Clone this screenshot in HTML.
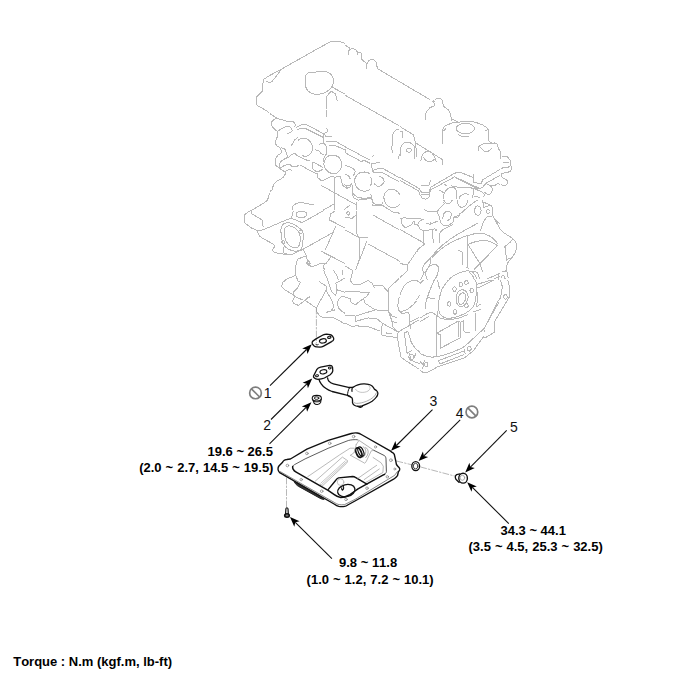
<!DOCTYPE html>
<html><head><meta charset="utf-8"><title>Oil pan components</title>
<style>
html,body{margin:0;padding:0;background:#fff}
#wrap{position:relative;width:700px;height:677px;overflow:hidden;background:#fff;font-family:"Liberation Sans",sans-serif;color:#000}
#wrap svg{position:absolute;left:0;top:0}
.t{position:absolute;white-space:nowrap;font-weight:bold;font-size:13px;line-height:15px;color:#000;font-kerning:none}
.w{word-spacing:0.4px}
.n{position:absolute;white-space:nowrap;font-size:14px;line-height:14px;color:#111}
</style></head><body>
<div id="wrap">
<svg width="700" height="677" viewBox="0 0 700 677">
<g id="engine" fill="none" stroke="#b8b8b8" stroke-width="1" shape-rendering="crispEdges">
<path d="M345.0 43.3L340.9 42.0L338.4 41.5L334.9 41.4L330.0 42.0L318.9 48.0L281.7 69.0L269.1 75.8L264.5 78.8L263.8 79.5L263.4 80.6L262.9 83.5L262.8 88.3L262.2 91.1L260.6 93.2L257.6 95.7L256.5 97.3L256.3 98.7L256.7 103.3L257.0 104.7L257.6 105.8L260.4 107.1L269.1 112.5M281.7 69.0L274.1 79.1L272.0 81.4L270.7 82.1L268.4 82.3L267.6 82.0L266.7 81.0M306.5 74.3L308.1 72.7L309.8 72.1L313.6 72.5L319.5 71.2L321.9 71.1L325.6 71.5L327.8 72.2L329.6 73.2L331.1 74.5L332.7 77.0L333.3 79.1L333.5 81.3L333.3 83.2L332.8 85.1L331.3 87.6L329.0 90.0L326.0 92.0L323.8 93.0L320.1 94.0L317.7 94.2L314.1 94.0L311.8 93.5L309.9 92.4L308.2 91.0L306.9 89.4L306.0 87.5L305.4 84.2L305.2 81.0L305.8 75.8L306.5 74.3M332.2 87.1L345.0 94.2M326.4 108.5L326.4 96.5L331.3 91.1L335.8 94.2L336.7 100.0L338.1 100.5M345.0 45.1L350.3 48.6M348.2 54.8L348.5 51.8L348.9 50.4L350.3 49.1L352.1 48.6L354.4 49.1L356.5 50.4L357.1 51.8L357.4 54.8M357.4 52.2L359.8 52.3L361.0 53.0L361.2 53.8L361.5 58.3L361.8 59.2L363.2 60.8L366.3 62.8M366.3 69.3L366.6 65.0L367.2 62.8L369.1 60.4L370.8 59.4L371.6 59.2L372.4 59.3L374.0 59.9L376.0 61.9L376.7 64.1L377.3 68.6M377.3 68.6L430.1 99.7M434.8 99.7L436.4 98.7L438.1 98.2L440.5 98.6L441.9 99.4M345.0 95.2L399.2 125.8M391.1 150.0L392.5 143.4L392.5 137.3L392.9 134.6L394.0 132.2L395.6 130.2L397.3 129.3L398.2 129.3L399.2 129.7M269.8 193.6L268.9 195.1L267.9 198.9L267.1 200.5L266.6 201.1L263.1 203.4L251.6 210.3M251.6 210.3L248.0 212.0L244.5 214.7L244.1 220.9L245.4 223.6L251.6 228.0L257.8 230.6L263.1 229.8L286.1 220.0M251.6 210.3L251.6 213.8L262.2 220.0L263.1 227.1M293.2 211.1L291.5 218.2M286.1 220.0L291.5 218.2M296.3 214.7L296.5 213.3L297.2 212.4L298.4 211.8L301.2 211.2L303.0 211.1L304.5 211.5L306.2 212.5L306.7 213.4L306.4 215.4L305.6 216.5L304.4 217.1L301.9 217.6L299.9 217.7L297.7 217.0L296.7 216.0L296.3 214.7M291.5 218.2L302.1 222.7L324.0 210.3M334.9 211.1L330.5 213.8L329.6 220.0L345.0 228.0M281.7 226.2L282.7 224.6L283.7 223.8L287.1 222.8L289.4 222.8L292.0 223.5L295.2 225.1L298.2 227.1L301.8 230.1L302.7 232.0L303.0 233.3L303.0 240.0L302.1 246.6L301.6 247.9L300.3 249.7L298.6 250.7L296.6 251.2L293.0 250.9L290.6 250.1L288.3 249.0L286.1 247.5L284.4 245.7L282.7 242.3L281.7 238.6L281.1 235.0L280.9 229.5L281.7 226.2M284.4 229.8L284.9 228.1L286.4 226.5L288.6 225.9L290.4 226.0L292.4 226.6L294.5 227.8L296.8 229.5L298.6 231.5L299.9 234.9L300.3 237.4L300.3 240.0L299.5 244.4L298.6 246.6L297.9 247.2L296.1 247.8L293.2 247.5L290.4 246.2L287.9 243.9L286.1 241.1L284.9 237.7L284.3 233.6L284.4 229.8M302.5 231.9L302.4 232.4L301.7 233.3L300.7 233.7L299.6 233.3L299.0 232.4L298.9 231.9L299.0 231.3L299.6 230.5L300.7 230.1L301.7 230.5L302.4 231.3L302.5 231.9M284.6 242.2L284.3 243.1L283.6 243.7L283.1 243.8L282.7 243.7L282.0 243.1L281.7 242.2L282.0 241.2L282.7 240.6L283.1 240.6L283.6 240.6L284.3 241.2L284.6 242.2M256.9 230.6L258.4 234.1L259.6 236.0L261.3 237.4L264.9 239.5M264.9 239.5L271.8 243.3L273.6 244.5L274.4 245.4L274.6 246.2L274.5 247.0L273.0 248.8L272.8 249.7L273.0 251.1L273.7 251.9L276.4 252.9L279.9 253.7L287.9 254.6M283.5 246.6L283.5 252.8L287.9 254.6L291.5 254.6L303.0 249.3M303.0 249.3L333.1 232.4L335.8 226.2M333.1 232.4L325.1 250.1M303.0 249.3L306.5 256.3L307.4 261.7M297.7 259.0L307.4 255.5M297.7 259.0L295.9 265.2L295.9 270.0M320.7 251.0L345.0 263.4M331.3 256.3L326.0 263.4L323.4 265.2L324.3 270.0M306.5 261.7L309.2 265.2L311.8 267.0L320.7 263.4L326.0 263.4M306.5 263.4L307.2 261.8L308.3 260.8L309.4 261.8L310.1 263.4L309.4 264.6L308.3 265.2L307.2 264.6L306.5 263.4M371.6 166.8L372.5 170.4L378.7 168.6L383.1 168.6L399.4 177.7M371.6 163.3L379.6 162.8M371.6 157.1L374.2 155.3"/>
<path d="M371.6 163.3L371.6 166.8M372.5 170.4L373.4 172.2L383.1 173.0L399.1 181.8M370.7 176.8L371.6 179.2L371.7 180.5L371.4 183.4L370.4 186.1M384.9 193.4L386.7 191.0L388.4 189.7L389.3 189.3L391.6 189.2L394.1 189.7L396.4 190.8L398.3 192.4L399.9 194.6M399.7 203.9L399.1 204.9L397.3 206.4L396.2 206.9L393.9 207.5L392.9 207.6L390.7 207.2L387.5 205.7L386.7 204.9L385.4 203.1L384.2 199.8L383.9 197.8L384.0 196.0L384.9 193.4M374.2 183.7L377.2 186.1L377.8 186.3L379.0 186.4L380.2 186.1L381.3 185.4L383.5 183.2L384.0 181.9L384.0 181.2L383.5 179.5L382.7 178.0L381.7 177.1L378.7 176.6M370.0 198.7L371.2 197.3L371.6 196.1L371.4 195.6L370.4 194.6M371.6 196.1L372.0 199.5L372.7 202.2L373.4 203.2L374.3 203.8L376.8 204.7L380.4 204.9L381.8 204.3L383.1 202.3M371.6 204.4L373.4 205.8L383.1 205.8L392.9 212.0L398.2 212.0L399.4 214.1M356.5 210.8L356.5 233.3L359.2 237.7M345.0 217.4L352.1 218.2L356.5 214.7M349.6 213.5L349.3 214.4L348.6 215.0L348.2 215.0L347.8 215.0L347.0 214.4L346.8 213.5L347.0 212.5L347.8 211.9L348.2 211.9L348.6 211.9L349.3 212.5L349.6 213.5M372.5 214.7L399.1 229.8M359.2 237.7L368.0 237.7M367.2 240.4L355.6 270.0M368.0 243.9L399.9 261.3M345.0 229.8L359.2 237.7L359.2 259.9L355.6 270.0M345.0 266.1L352.1 270.0M392.0 152.7L392.0 150.0M398.2 158.9L399.5 154.4M502.2 156.4L507.5 156.7L510.2 160.6L510.2 166.0L507.5 167.7L503.1 167.7L501.3 168.8M503.1 162.4L509.3 162.8M510.2 165.1L511.6 166.7L512.0 167.7L511.5 169.6L510.7 170.8L510.2 171.3L508.6 172.0L501.6 173.6L501.2 174.4L501.5 176.3L502.2 177.5L506.1 179.6L507.1 180.7L507.7 182.6L507.5 183.7L506.2 184.9L504.8 185.4L503.0 185.3L500.7 184.7M500.3 229.1L501.3 230.6L503.1 232.4L511.5 237.6L513.8 239.6L515.7 242.2L516.8 245.6L516.8 247.4L516.4 249.3L515.0 252.7L512.9 256.3L509.0 261.1L507.5 263.4L506.9 265.9L506.7 270.0M512.9 238.6L510.2 242.2L504.9 246.6L506.7 259.9L509.3 258.1M295.9 270.0L295.9 275.3L287.0 278.9L282.6 282.4L281.7 286.8L284.4 289.5L293.2 294.8M295.9 275.3L297.7 280.6L300.3 282.4L297.7 287.7L293.2 292.2L293.2 294.8L295.0 296.6M295.0 296.6L292.4 301.0L294.1 303.7L298.6 305.4L308.3 297.5L310.1 296.6M295.0 296.6L303.0 300.1M310.1 296.6L304.8 300.1L316.3 308.1M316.3 308.1L326.0 290.4M318.9 281.5L326.0 286.0L326.0 290.4L331.3 299.2L334.0 306.3L331.3 310.8L326.0 312.5M323.4 270.0L326.9 278.0L331.3 291.3L335.8 295.7L336.7 287.7L335.8 283.3M316.3 308.1L316.6 310.9L317.2 312.5L319.0 315.0L321.6 317.0L323.6 317.6L326.9 317.9L328.5 317.8L330.7 317.0L332.6 317.2L337.1 319.5L345.0 324.1M326.0 312.5L334.9 309.9M345.0 296.6L341.8 296.8L340.2 297.5L339.0 298.9L338.0 300.8L337.5 302.8L337.5 303.8L338.3 307.0L339.3 309.0L341.1 310.8L345.0 313.4M335.8 283.3L345.0 278.0M335.8 289.5L345.0 292.2M333.1 270.0L336.7 275.3L338.4 279.7M342.0 270.0L342.9 275.3"/>
<path d="M398.9 278.6L388.4 288.6L388.4 310.8L392.0 316.1L397.3 317.9M388.4 310.8L392.0 321.4L397.3 323.2M392.0 321.4L392.9 326.7L398.2 332.0M353.0 270.0L350.3 280.6L353.0 284.2L359.2 285.1L368.0 280.6L372.5 283.3L374.2 287.7M374.2 285.1L382.2 285.1L388.4 292.2M345.0 291.3L364.5 292.2L369.8 292.2L366.3 296.6L363.6 298.4L364.5 302.8M345.0 297.5L350.3 298.4L351.2 302.8L355.6 304.6L363.6 298.4M364.5 302.8L375.1 309.9L388.4 310.8M345.0 315.2L355.6 316.1L375.1 309.9M355.6 316.1L355.6 321.4L368.0 317.9L376.9 318.7L382.2 323.2M345.0 323.2L352.1 326.7L355.6 325.8L368.0 326.7L380.4 331.1M382.2 323.2L381.3 334.7L387.5 336.5L397.3 337.4M382.2 323.2L398.2 332.0M385.8 332.9L392.0 333.8M398.2 332.0L419.4 319.6M397.3 337.4L398.2 332.0M397.3 337.4L400.8 356.8L405.3 360.4L419.4 369.3M404.4 332.9L406.7 331.9L407.9 332.0L408.6 333.3L410.7 340.8L412.6 344.7L414.9 347.8L417.1 349.9L419.9 352.2M404.4 332.9L407.0 353.3L408.8 352.4L412.4 349.8M408.8 352.4L411.5 360.4L420.0 363.9M411.5 360.4L414.1 357.7L415.9 353.3M408.8 356.8L409.4 355.2L410.6 354.2L411.5 354.1L412.5 354.5L413.2 355.1L413.4 355.5L413.5 356.8L413.2 358.6L412.2 360.0L411.3 360.4L410.9 360.4L410.1 359.6L409.2 358.2L408.8 356.8M409.7 322.3L419.0 317.4M408.8 311.7L409.7 322.3L410.6 328.5M399.1 310.8L398.5 309.9L398.1 308.6L397.9 305.3L398.5 300.2L399.4 296.5M416.2 301.2L414.1 303.7L411.6 306.1L407.5 309.2L404.8 310.4L402.2 311.3L399.9 311.2L399.1 310.8M399.1 310.8L401.7 313.4L408.8 312.5M506.7 270.0L508.2 278.1M501.8 272.2L505.8 270.9M501.3 277.1L502.1 275.8L502.6 275.6L503.6 275.8L504.4 276.8L505.1 278.8M501.2 278.4L501.3 277.1M270.0 113.7L276.6 118.1L281.1 119.6L289.2 121.8L293.6 121.8L295.8 124.8L294.4 127.0M295.8 127.7L301.8 124.8L306.9 124.8L324.7 134.4L326.1 136.6M296.6 129.2L305.5 128.5L323.2 137.3M276.6 118.1L273.6 119.9L272.2 121.1L271.6 122.3L271.4 124.1L271.9 126.0L273.2 127.9L275.0 129.6L277.4 131.4M277.4 131.4L280.1 129.5L282.8 128.0L285.9 126.7L288.4 126.3L289.5 126.7L291.1 128.1L292.0 129.7L292.2 130.7L291.3 131.9L289.9 132.9L287.0 133.3M277.4 131.4L277.5 134.7L277.4 136.6L275.4 141.0L275.2 142.5L275.5 143.7L276.6 145.5L279.9 147.8L280.3 148.4L281.2 150.6L281.2 152.2L280.7 153.4L278.0 155.2L276.4 157.1L275.4 159.4L275.1 162.0L275.3 163.8L275.9 165.4L277.1 166.6L279.6 168.3M279.6 168.3L280.0 163.4L280.9 161.7L282.4 160.3L285.4 158.4L288.5 157.3L291.6 154.7L293.7 153.6L294.7 153.5L295.5 153.8L297.3 155.8M281.1 147.7L284.2 148.8L285.1 149.6L287.7 156.5M279.6 168.3L283.9 165.8L287.8 164.4L289.2 164.4L289.9 164.6L292.2 166.6L293.6 166.9L295.2 166.7L297.3 166.1L299.5 164.7"/>
<path d="M299.5 164.7L314.3 172.8L317.3 173.5L318.0 177.9L321.7 180.9L326.9 178.7L331.3 176.5M297.3 155.8L306.9 160.2L309.9 160.2M312.8 161.7L323.2 167.6M312.8 162.4L312.2 165.3L312.1 166.9L312.9 168.9L314.3 170.6L316.4 171.3L318.7 171.3L320.4 170.7L323.2 169.1M284.8 172.0L279.6 168.3M286.2 170.6L285.1 174.3L283.5 177.0L281.8 178.4L277.4 180.9L274.7 183.2L273.3 185.4L272.2 189.8L271.4 190.6L270.0 191.2M286.2 170.6L290.7 169.1L291.4 171.3M298.1 140.3L300.3 138.7L301.8 138.1L304.3 138.0L306.1 138.4L307.7 139.3L310.1 141.5L311.4 143.2L312.4 146.1L312.5 149.1L312.0 151.0L311.0 152.8L309.2 154.9L307.7 155.8L305.5 156.5L304.0 156.3L301.8 155.1M291.4 145.5L294.4 140.3L295.7 139.0L298.1 137.3M324.7 160.2L325.9 158.2L327.0 157.0L328.3 156.1L330.0 155.4L331.8 155.1L333.8 155.2L335.9 155.7L337.9 156.6L338.7 157.3L340.1 158.9L341.1 161.0L341.6 163.2L341.4 166.6L340.6 168.9L339.6 170.7L337.4 172.7L335.7 173.5L334.8 173.7L331.7 173.4L329.8 172.8L328.1 171.8L325.4 169.1L324.3 166.9L323.9 164.7L323.9 163.1L324.7 160.2M370.0 173.5L366.6 172.4L364.5 172.0L361.5 172.4L359.5 173.0L357.8 174.1L355.8 176.7L354.9 178.7L354.7 180.9L355.0 183.2L356.1 186.2L357.9 188.6L360.1 190.2L361.8 190.9L364.5 191.2L366.5 190.9L370.0 189.8M318.7 145.5L320.0 143.9L321.0 143.2L322.2 143.2L324.7 143.7M315.1 149.9L317.5 150.2L318.7 150.6L321.0 153.6L322.0 154.0L323.9 154.3M323.9 133.6L323.9 143.2L326.1 145.5M326.1 128.5L327.6 129.2L326.9 132.2L323.9 133.6M325.4 136.6L332.0 136.6M326.1 110.0L326.1 116.6M326.1 145.5L326.1 154.3L323.9 158.0L323.2 162.4M326.1 141.8L332.0 141.0L336.5 141.8L345.3 146.9L370.0 160.2M329.1 145.5L335.0 145.5L345.3 149.9L345.3 152.8L361.6 161.7L363.8 160.2L370.0 163.2M344.6 165.4L347.8 166.2L349.8 166.9L352.8 168.5L354.5 169.8L354.9 170.6L355.1 171.4L354.5 173.4L353.5 175.7M344.6 174.3L347.0 175.0L348.3 175.7L349.2 176.9L350.5 179.4M334.5 177.2L334.5 210.0M321.0 185.3L355.7 204.5M331.3 176.5L335.0 177.2L340.2 176.5L341.6 180.9L342.4 185.3L346.8 188.3L350.5 186.8L351.2 183.1L352.7 186.8L352.0 192.7L353.5 197.9L358.6 200.1L370.0 198.6M356.4 201.6L356.4 210.0M352.0 192.7L357.1 197.1L364.5 198.6L370.0 197.1M343.9 210.0L350.5 204.5M292.2 210.0L292.3 207.4L292.9 206.0L294.1 204.9L295.7 203.8L298.8 202.6L301.8 202.3L306.9 203.8L313.6 204.5M323.2 210.0L334.5 203.8M343.9 184.6L346.8 186.1L349.8 185.3M425.1 119.9L425.5 114.4L426.8 111.4L429.5 108.1L430.4 107.5L433.5 106.2L434.7 105.2L434.7 104.5L434.4 103.6L432.5 100.7M433.2 100.0L434.7 102.2M442.8 100.0L443.0 103.8L443.6 105.9L444.2 106.7L448.0 109.5L448.7 110.3L450.2 113.2L451.1 117.3L451.0 122.2M451.0 118.5L458.3 122.2M442.1 144.3L442.8 134.0L442.9 129.2L443.6 127.3L444.3 126.5L447.7 124.6L452.7 122.9L456.7 122.3L466.7 121.4L470.9 121.4L476.5 122.6L482.5 124.9L486.5 127.4L488.0 129.1L488.4 130.1L488.7 133.1L488.6 141.4M443.6 131.0L445.8 128.8M484.9 131.0L487.9 129.5M474.6 128.5L474.1 130.1L472.8 131.5L470.8 132.7L468.3 133.4L465.4 133.7L462.6 133.4L460.1 132.7L458.0 131.5L456.7 130.1L456.3 128.5L456.7 126.9L458.0 125.5L460.1 124.3L462.6 123.6L465.4 123.3L468.3 123.6L470.8 124.3L472.8 125.5L474.1 126.9L474.6 128.5M458.3 134.7L461.5 136.1L463.5 136.6L465.6 136.6L469.4 136.2"/>
<path d="M478.3 151.0L478.5 148.0L479.0 146.5L480.0 145.5L481.9 144.3L484.4 143.6L487.5 143.2L494.5 143.0L496.8 143.6L497.4 144.2L497.7 145.1L498.2 148.7L498.5 149.2L499.5 149.9L500.0 151.0L500.0 159.1M480.5 147.3L483.5 150.5L484.2 151.0L485.6 151.3L487.2 151.3L488.6 151.0L490.0 150.1L492.3 148.0M496.8 143.6L497.5 145.8M488.6 141.4L491.6 142.8M400.0 126.6L413.3 134.7L415.5 142.8L442.8 159.8L442.8 165.0M400.0 131.8L402.2 131.8L402.7 138.4M400.0 156.9L400.4 148.7L401.2 146.2L402.4 144.5L404.4 142.8L405.9 142.2L408.1 142.0L409.6 142.4L412.0 143.8L413.3 145.1L414.1 146.5L414.5 148.1L414.9 151.6L414.8 159.1M411.5 150.2L411.0 151.4L409.7 152.2L408.9 152.3L408.0 152.2L406.7 151.4L406.2 150.2L406.7 149.0L408.0 148.3L408.9 148.2L409.7 148.3L411.0 149.0L411.5 150.2M415.5 142.8L416.2 150.2L416.2 156.9M420.7 161.3L421.8 156.3L423.2 153.9L424.5 152.6L425.8 151.7L427.3 151.2L428.8 151.2L430.3 151.7L431.1 152.3L432.7 154.0L434.1 155.9L435.1 157.8L436.2 162.0M423.6 156.9L425.3 160.1L425.8 160.6L427.4 161.1L429.3 161.4L431.0 161.3L432.5 160.7L434.7 159.1M431.8 152.4L432.5 155.4M400.0 177.5L419.2 188.6L421.4 192.3L428.8 192.3L431.0 187.1L454.7 173.1L460.6 172.4L473.1 177.5L473.9 182.7L481.2 183.5L482.7 179.8L500.0 169.4M400.0 180.5L418.5 190.8L419.9 194.5L422.2 198.2L425.8 199.3L429.5 196.8L430.3 190.1L454.7 176.8L479.8 188.6L482.7 187.1L485.7 183.5L500.0 175.3M455.4 177.5L478.3 189.4M420.7 184.9L425.8 185.7L429.5 184.9L430.3 179.8M421.4 194.5L428.8 194.5M473.1 173.9L473.1 177.5M485.7 183.5L489.4 185.2L491.1 186.6L491.9 187.6L492.3 188.6L492.3 190.5L491.2 192.8L490.3 193.8L489.2 194.4L487.9 194.4L484.2 192.3M488.6 185.7L494.5 185.7L497.5 183.5L500.0 184.2M443.0 199.2L443.9 194.1L445.4 191.3L446.7 189.8L448.6 188.2L449.9 187.5L451.7 187.1L453.0 187.3L454.3 187.7L455.4 188.6L455.8 189.4L456.4 191.3L456.9 194.5L456.8 196.6L456.2 199.4M439.1 190.1L444.3 193.1M444.3 184.2L447.3 186.4M451.0 185.7L457.6 187.1L467.9 187.1L473.9 188.6L472.7 197.7M458.6 199.5L460.0 196.6L461.2 195.5L462.6 194.6L464.2 194.0L465.8 193.8L469.4 194.5M473.9 188.6L482.7 192.3L484.2 194.5L483.8 197.3M473.9 196.0L480.5 197.5M442.8 219.2L443.3 214.8L443.6 214.0L444.6 212.7L445.9 211.6L447.3 211.1L449.4 211.7L450.6 212.7L451.0 213.3L451.2 214.9L450.9 216.8L450.2 218.5L449.7 219.1L446.5 221.4M457.6 200.0L457.9 203.5L458.3 205.2L460.0 206.8L461.3 207.3L462.0 207.4L464.4 206.3L466.5 204.4L467.2 202.9L467.9 200.0M443.6 200.0L445.3 202.6L446.4 203.2L448.0 203.3L449.6 203.2L450.7 202.6L452.4 200.0M424.4 209.6L428.5 211.6L432.0 211.8L436.9 211.1L438.1 210.4L439.1 208.9M436.9 211.1L439.1 216.2L440.0 220.3L440.6 222.2L442.3 224.4L443.6 225.5L445.0 226.0L447.2 225.7L449.5 224.7L453.2 222.2M439.1 208.9L444.2 204.1L444.3 203.3L442.8 201.5M453.2 222.2L453.2 217.7L459.1 214.8L469.4 205.9L475.3 201.5L478.3 200.0M453.9 216.2L456.3 217.7L456.9 217.7L458.0 217.3L459.8 215.5L459.8 214.7L459.1 213.3M481.1 210.6L480.9 212.1L480.5 213.4L479.8 214.5L478.8 215.1L477.8 215.4L476.8 215.1L475.9 214.5L475.2 213.4L474.8 212.1L474.6 210.6L474.8 209.2L475.2 207.9L475.9 206.8L476.8 206.1L477.8 205.9L478.8 206.1L479.8 206.8L480.5 207.9L480.9 209.2L481.1 210.6M489.4 211.5L489.1 212.7L488.3 213.5L487.9 213.6L487.4 213.5L486.7 212.7L486.4 211.5L486.7 210.3L487.4 209.6L487.9 209.5L488.3 209.6L489.1 210.3L489.4 211.5M482.7 200.0L483.5 207.4L490.8 205.2L493.1 208.9L492.3 214.0L494.5 219.2L500.0 228.8M483.5 202.2L490.8 205.2M480.5 231.0L482.2 224.9L484.0 221.1L485.5 218.7L487.1 217.0L488.0 216.5L490.0 216.2L492.3 216.2"/>
<path d="M494.5 219.2L497.5 222.2L500.0 223.6M400.0 218.5L404.4 217.7L408.9 218.5L414.8 218.5L423.6 219.2L419.2 221.4L417.7 225.1L414.8 224.4L414.0 220.7M401.5 219.2L401.5 223.6L405.2 228.1L411.1 225.1L414.0 220.7M417.7 225.1L419.9 228.8L423.6 231.0M423.6 231.0L434.7 228.8L436.9 229.5M423.6 231.0L423.6 242.8M400.0 229.5L423.6 242.8L424.4 244.3L418.5 248.7L407.4 265.0L400.0 263.5M407.4 265.0L407.4 270.9L400.0 277.5M418.5 248.7L417.0 251.7M432.5 229.5L433.2 242.8M435.5 230.3L436.9 231.0M439.1 242.8L439.6 233.2L442.8 229.5L453.2 224.4M425.8 222.9L430.3 224.4L438.4 220.7M430.3 222.2L431.0 224.4M422.2 269.4L423.8 265.2L425.0 263.5L429.5 259.1L436.7 250.5L442.1 245.4L450.2 239.1L455.9 235.4L464.7 230.3L478.3 222.9M432.5 256.9L437.9 251.7L441.4 248.7L446.9 244.9L451.0 242.5L455.5 240.2L463.1 237.1L467.9 235.5L474.2 233.8L478.0 233.3L481.4 233.3L484.6 233.9L488.6 235.5L490.9 236.8L493.7 239.1L496.1 241.5L498.2 244.3M432.5 256.9L433.2 258.3M422.2 269.4L423.4 271.8L423.9 272.3L424.4 272.4L425.5 271.5L426.8 269.9L429.3 265.7L431.0 261.3L430.8 260.2L429.5 259.1M467.9 244.3L473.5 242.3L476.8 241.4L481.3 240.7L484.3 240.5L487.0 240.8L490.9 241.9L494.0 243.3L497.5 245.8M467.9 235.5L467.9 267.2M467.9 244.3L479.8 263.5L482.7 272.4M497.5 245.8L473.9 269.4M458.3 250.2L462.8 252.4L462.8 265.0M465.7 267.2L469.4 268.7M425.8 272.4L427.3 269.2L428.8 267.2L430.3 265.8L432.1 264.8L433.9 264.3L435.5 264.4L436.9 265.2L438.1 266.4L438.4 267.2L438.6 269.2L438.2 271.6L437.3 274.8L436.5 276.7L435.4 278.4L434.0 279.6M427.3 279.7L426.3 277.5L425.8 275.5L425.8 272.4M424.4 272.4L420.7 279.8M400.0 294.5L402.7 288.6L404.4 285.7L406.3 283.7L408.3 282.3L411.3 280.9L414.4 280.3L416.2 280.5L417.1 280.8L419.5 282.6M419.6 295.1L418.2 297.6L416.2 300.0M448.9 279.7L450.2 278.3L453.1 276.1L456.2 274.4L461.7 272.0L466.5 270.9L468.8 271.0L472.4 271.6M472.4 271.6L475.5 275.8L476.8 279.0M469.4 272.4L471.6 274.7L473.3 277.0L474.2 279.7M472.4 271.6L476.1 272.0L477.3 272.9L478.2 274.2L478.8 275.9L479.3 279.2M486.7 279.2L500.0 273.1M494.3 279.1L500.0 276.1M498.2 273.9L498.2 279.9M448.4 280.0L443.1 287.2L441.4 290.6L440.3 294.2L439.1 299.5L438.7 302.7L438.5 307.1L438.9 310.7L439.4 312.8L440.4 314.6L441.1 315.4L443.0 316.8L445.3 317.8L446.6 318.1L449.3 318.3L452.3 317.9L457.2 316.7L460.9 315.3L464.5 313.7L467.5 311.9L470.1 310.0L472.3 307.8L473.2 306.6L473.9 305.3L474.9 302.3L476.5 293.3L476.7 287.3L475.8 280.0M456.3 299.5L456.4 296.3L456.8 294.2L457.8 292.5L459.2 291.0L461.7 289.7L463.2 289.8L465.5 291.0L466.6 292.2L467.6 293.9L468.1 295.9L468.2 296.8L467.9 298.9L467.1 301.1L466.1 303.0L464.8 304.6L463.2 305.9L461.7 306.6L460.9 306.6L459.4 306.3L458.1 305.4L457.6 304.8L456.9 303.3L456.3 299.5M458.1 299.5L459.0 295.7L459.8 294.5L460.9 293.5L462.0 292.9L463.0 292.8L464.0 293.2L464.9 294.1L465.4 295.1L465.8 296.4L465.7 298.6L464.8 301.0L462.9 303.5L461.9 304.1L460.8 304.4L459.7 304.2L458.5 302.3L458.1 300.7L458.1 299.5M456.3 289.2L456.2 289.9L455.6 291.1L454.6 291.5L453.5 291.1L452.9 289.9L452.8 289.2L452.9 288.5L453.5 287.4L454.6 286.9L455.6 287.4L456.2 288.5L456.3 289.2"/>
<path d="M462.5 284.4L462.5 285.1L461.8 286.2L460.8 286.6L459.7 286.2L459.1 285.1L459.0 284.4L459.1 283.8L459.7 282.7L460.8 282.3L461.8 282.7L462.5 283.8L462.5 284.4M468.2 282.7L468.1 283.4L467.5 284.5L466.4 285.0L465.4 284.5L464.8 283.4L464.7 282.7L464.8 281.9L465.4 280.8L466.4 280.4L467.5 280.8L468.1 281.9L468.2 282.7M473.5 290.6L473.4 291.3L472.8 292.5L471.8 292.9L470.7 292.5L470.1 291.3L470.0 290.6L470.1 289.9L470.7 288.8L471.8 288.3L472.8 288.8L473.4 289.9L473.5 290.6M451.0 303.9L450.9 304.6L450.3 305.8L449.2 306.2L448.2 305.8L447.6 304.6L447.5 303.9L447.6 303.2L448.2 302.1L449.2 301.6L450.3 302.1L450.9 303.2L451.0 303.9M456.7 311.9L456.6 312.6L456.0 313.8L454.9 314.2L453.9 313.8L453.2 312.6L453.1 311.9L453.2 311.2L453.9 310.0L454.9 309.6L456.0 310.0L456.6 311.2L456.7 311.9M468.2 305.7L468.1 306.4L467.5 307.4L466.4 307.8L465.4 307.4L464.8 306.4L464.7 305.7L464.8 305.0L465.4 304.0L466.4 303.6L467.5 304.0L468.1 305.0L468.2 305.7M438.6 308.4L436.8 315.4L436.8 356.2M436.8 315.4L440.4 318.1L448.4 319.9L459.0 318.1L467.9 314.6M420.0 318.1L425.9 314.3L428.1 313.3L429.9 312.8L431.6 312.7L433.2 313.1L436.8 315.4M420.0 321.7L428.9 316.3M436.8 333.2L458.1 321.1L460.8 322.2L460.8 337.6L440.4 348.2L440.4 334.9M436.8 333.2L440.4 334.9M458.1 321.1L458.1 336.7M440.4 348.2L441.3 349.1M460.8 322.2L463.4 320.8L463.4 330.5L466.1 332.8L469.6 332.8M473.2 311.9L481.1 309.2M475.8 312.8L475.8 330.5M476.7 288.9L477.6 297.7L476.7 306.6L481.1 303.9M476.7 284.4L491.8 280.0M477.6 288.0L494.4 280.0M507.7 280.0L509.5 287.1L509.5 296.8L494.4 321.7L494.4 332.3L485.6 337.6L483.5 336.7L473.2 350.9L464.3 358.0L437.7 366.8L428.0 372.2L422.7 372.2L420.0 370.4M500.6 280.0L502.4 287.1L500.6 297.7L498.0 301.3L483.8 329.6L484.7 332.3M507.2 296.8L507.1 297.6L506.5 298.7L505.4 299.1L504.4 298.7L503.7 297.6L503.7 296.8L503.7 296.1L504.4 295.0L505.4 294.5L506.5 295.0L507.1 296.1L507.2 296.8M498.9 302.2L482.9 330.5M420.0 353.6L424.5 355.4L428.6 356.8L432.6 357.1L436.7 356.7L441.0 355.8L445.2 354.7L449.5 353.3L460.1 348.9L464.3 346.5L467.2 344.1L482.9 329.6M471.2 348.8L471.1 349.5L470.4 350.6L469.3 351.1L468.1 350.6L467.4 349.5L467.3 348.8L467.4 348.1L468.1 346.9L469.3 346.5L470.4 346.9L471.1 348.1L471.2 348.8M428.0 364.5L427.9 365.3L427.2 366.4L426.2 366.8L425.2 366.4L424.5 365.3L424.4 364.5L424.5 363.8L425.2 362.7L426.2 362.2L427.2 362.7L427.9 363.8L428.0 364.5M464.3 349.1L465.2 354.4M439.5 364.2L438.6 360.6L464.3 350.9M439.5 364.2L464.3 354.4M420.0 361.5L423.5 365.1M424.4 359.8L422.7 368.6M420.0 283.5L423.5 280.0M425.3 309.2L425.9 302.8L426.6 299.7L429.7 290.6L434.2 280.0M427.1 297.7L435.1 298.6M437.7 280.0L439.5 288.9"/>

</g>
<g id="blackparts" fill="none" stroke="#111" stroke-width="1" stroke-linecap="round" stroke-linejoin="round">
<!-- dash-dot guide lines -->
<g stroke="#9a9a9a" stroke-width="0.7" stroke-dasharray="6 2 1.5 2">
<path d="M316.4 308V343"/>
<path d="M286.5 478V507"/>
<path d="M396.8 461.1L411.4 464.7M420.6 467L455.2 476.2"/>
</g>
<!-- 1: gasket -->
<g stroke-width="1.5">
<path d="M312.2 342.2C312.4 341.4 313 340.9 313.8 340.4L316.4 338.6L323.4 334.8C324.4 334.3 325.4 334.1 326.6 334.1L330.2 334.6C331.2 334.8 331.9 335.4 332.5 336.2L333.6 338C333.9 338.8 333.8 339.6 333.2 340.4L331.6 341.6L323.6 346.1C322.4 346.8 321.2 347.1 320 347.1L316.6 346.8C315.6 346.7 314.8 346.4 314.2 345.9L312.8 344.6C312.2 343.9 312 343 312.2 342.2Z" stroke-width="1.3"/>
<ellipse cx="322.9" cy="340.9" rx="3.5" ry="2.1" transform="rotate(-10 322.9 340.9)" stroke-width="1.2"/>
<ellipse cx="329.3" cy="337.3" rx="1.7" ry="1.1" transform="rotate(-10 329.3 337.3)" stroke-width="1.2"/>
<path d="M315.6 344.2C316 345 317.3 345.2 318.2 344.6" stroke-width="1"/>
</g>
<!-- 2: oil strainer -->
<g stroke-width="1.3">
<path d="M313.5 376.1L316.7 369.7C317.6 368.2 318.9 367.4 320.6 367.1L329.6 365.4C331.2 365.3 332.2 365.9 332.5 367.1L332.8 370.9C332.6 372.4 331.6 373.7 330.2 374.8L324.4 378C322.4 378.8 320.2 379.2 318 379.3C316.4 379.2 315.2 378.8 314.4 378C313.7 377.5 313.3 376.9 313.5 376.1Z"/>
<ellipse cx="323.4" cy="371.8" rx="3.5" ry="2.1" transform="rotate(-10 323.4 371.8)" stroke-width="1.1"/>
<ellipse cx="329.8" cy="368" rx="1.4" ry="0.9" transform="rotate(-10 329.8 368)" stroke-width="1"/>
<ellipse cx="317" cy="375.7" rx="1.5" ry="1" transform="rotate(-10 317 375.7)" stroke-width="1"/>
<path d="M327.6 378C327.8 379.4 328.2 380.4 328.9 381.2C330 382.6 331.4 383.3 333.4 383.8L349.5 387.6"/>
<path d="M319 379.4C319.4 381.2 320.2 382.6 321.2 383.8C322.4 385.6 323.8 387 325.7 388.3C327.6 389.7 329.8 390.8 332.1 391.5L347.6 395.4L350.6 396.5"/>
<path d="M349.5 387.6C348.2 390 347.6 392.6 347.5 395.2" stroke-width="1"/>
<path d="M349.3 387.5L352.5 387.4C352.9 387.2 353.2 387.1 353.6 387C354.9 386.1 356.3 385.4 357.9 384.9C359.7 384.3 361.6 383.9 363.6 383.8C365.4 383.7 367 383.9 368.6 384.3C370 384.6 371.2 385.2 372.1 385.9C373.2 386.8 373.8 387.9 374.3 389.1C375.2 389.6 376.1 390.1 376.8 390.9C377.5 391.6 377.9 392.5 377.9 393.4C377.8 394.7 377.3 395.9 376.4 397C375.3 398.6 373.8 400 372.1 401.3C370.4 402.4 368.5 403.3 366.4 404.1L362.1 405.9C360.7 406.3 359.3 406.4 357.9 406.3C356.5 406.2 355.3 405.8 354.3 405.2C353.3 404.6 352.7 403.7 352.5 402.7L352.5 399.9C352.4 399.1 352.2 398.3 351.8 397.7L347.9 395.6"/>
<path d="M352.2 388.2C351.8 389.4 351.8 390.4 352 391.4" stroke-width="1.2"/>
<path d="M376.4 392.8C375.8 394.4 374.9 395.8 373.6 397C371.6 398.8 369.2 400.2 366.4 401.3C363 402.6 359.6 403.4 356.4 403.4C355.2 403.3 354.2 402.8 353.6 402" stroke="#999" stroke-width="0.8"/>
<path d="M357.9 406.3C358.8 407.2 360 407.4 361 407.1C361.8 406.9 362.3 406.4 362.5 406" stroke-width="1.3"/>
<path d="M355.4 389.2C356.4 390.8 358.4 391.9 360.8 392.3C363.4 392.6 366 392.2 368 391C369.6 390 370.3 388.6 370 387.4C369.8 386.6 369.3 386 368.6 385.6" stroke="#aaa" stroke-width="0.7"/>
</g>
<!-- flange nut under strainer -->
<g stroke-width="1.1">
<ellipse cx="316.8" cy="398.2" rx="4.6" ry="2.8"/>
<ellipse cx="316.6" cy="398.1" rx="2.3" ry="1.3" stroke-width="0.9"/>
<path d="M312.7 399.6L314.1 403.1C315 404.2 316.2 404.6 317.4 404.5C318.8 404.3 320 403.5 320.6 402.4L321.1 399.4"/>
<path d="M313.9 401.4C315.6 402.2 318.2 402.2 320.3 401.2" stroke-width="0.8"/>
</g>
<!-- 3: oil pan -->
<g>
<!-- underside strip -->
<path d="M294.3 481.8C295.4 484 296.8 485.4 298.6 486.4L319.9 498.2C321.4 499 322.8 499.4 324.2 499.4L322 497.6L296 482.6Z" fill="#333" stroke="#222" stroke-width="1"/>
<!-- outer outline -->
<path d="M278 469.3C277.9 467.8 278.3 466.8 279.1 465.8L282.1 462.8C282.8 461.8 283.2 461 283.9 460.5C284.7 459.8 285.7 459.6 286.8 459.5L290.4 459L306.9 449.2L328.2 440.4L351.3 433.5C353.4 432.9 355.4 432.8 357.2 433C358.8 433.3 360.1 433.8 361.3 434.5L390.6 451.2L392.1 452.4C393.4 453 394 453.6 394.3 454.4L395.7 460.7L396.4 464.4C397 465.8 398.4 466.6 399.3 467.9C399.8 468.6 399.8 469.4 399.6 470C399.2 471 398.4 471.6 398.2 472.5L397.5 475.6C396.4 477 395 478.2 393.6 479.2L355 501L347.7 505C346.7 505.8 345.7 506.3 344.7 506.4C342.7 506.7 340.7 506.7 338.8 506.4C337 506 335.5 505 334.1 504L279.7 472.7C278.7 471.8 278.1 470.6 278 469.3Z" stroke-width="1.4"/>
<!-- flange lower edge (thickness) -->
<path d="M280.2 471.6L334.6 502.6C336 503.6 337.4 504.3 339 504.6C340.8 504.9 342.7 504.9 344.6 504.6L355 499.4L394.6 475.4L397.4 471.6" stroke="#555" stroke-width="0.7"/>
<!-- inner opening: top edges (medium) -->
<path d="M292.7 466.5C293.1 465.6 293.8 465 294.6 464.6L305.1 458.9L328.1 448.3L348.3 440.5C351.4 439.7 354.4 439.5 357.2 439.7" stroke="#333" stroke-width="0.8"/>
<path d="M357.2 439.7C358.4 440 359.4 440.6 360.4 441.3L374 450.4" stroke="#777" stroke-width="0.6"/>
<path d="M374 450.4L384.6 455.7C385.6 456.6 386 457.8 386 459.2L386.4 471.7C386.2 472.8 385.6 473.6 384.6 474.3" stroke="#333" stroke-width="0.85"/>
<!-- inner wall lower-left / bottom / right (thick) -->
<path d="M292.7 466.5C292.5 467.6 292.7 468.4 293.1 469.1C293.8 470.4 294.8 471.4 296.2 472.2L328.1 490.4L334.3 494.6C336.4 496.2 338.6 497.2 340.7 497.4C343.8 497.4 346.6 496.6 349.3 495L358 488.9L382.9 475.2L384.6 474.3" stroke-width="1.5"/>
<!-- sump pocket -->
<path d="M328.3 489.4L335.8 480.2C336.6 478.9 337.4 478.2 338.5 477.9L352.7 476.5C353.8 476.6 354.6 476.9 355.4 477.4L366.9 484.1" stroke-width="1.4"/>
<ellipse cx="346.3" cy="490.6" rx="8.8" ry="6" transform="rotate(-14 346.3 490.6)" stroke-width="1.3"/>
<path d="M342.9 485.5C344.2 487 343.8 489.4 342.4 490.2C341.6 489.6 341.4 488.8 341.8 487.8" stroke-width="1.1"/>
<circle cx="340.6" cy="482.1" r="3.3" stroke="#aaa" stroke-width="0.7"/>
<!-- drain boss -->
<ellipse cx="358.8" cy="452.6" rx="2.5" ry="5.1" transform="rotate(-24 358.8 452.6)" stroke-width="1.7"/>
<ellipse cx="360.9" cy="451.7" rx="2.5" ry="5" transform="rotate(-24 360.9 451.7)" stroke-width="1.2"/>
<path d="M363.2 446.8C365.2 447.6 366.4 450.2 365.6 453.4C365 455.6 363.8 457 362.4 457.4M365.6 447.4C367.6 448.4 368.6 450.6 368 453.4C367.6 455.2 366.8 456.6 365.8 457.6" stroke-width="0.6" stroke="#777"/>
<!-- thin interior detail -->
<g stroke="#8c8c8c" stroke-width="0.6">
<path d="M350.5 455.3L354.1 452.6M350.5 455.3L364.7 463.2L366 461.9L371.3 450.8L374 450.4M356.3 444.4L358.5 441.2M354.1 452.6L356.3 444.4"/>
<path d="M307.7 476.7L339.6 454.9L350.1 448.2L354 448.2"/>
<path d="M315.3 481.1L342.4 457.1L347.5 460.6C347.6 461.6 347.2 462.4 346.6 463.2L322.8 485.5L320.1 484.2"/>
<path d="M321 483L345.2 461M322.2 484L346.2 462" stroke-width="0.5"/>
<path d="M373.1 457.5L381.1 462.8L383.3 466.3L382.9 472.5L366 482.3"/>
<path d="M364.2 479.6L379.3 469M357.6 478.6L372.4 468.2L376.6 465.4"/>
</g>
<!-- bolt holes -->
<g stroke="#777" stroke-width="0.65">
<circle cx="287.4" cy="465.5" r="1.3"/><circle cx="306.9" cy="453.4" r="1.3"/><circle cx="329.7" cy="443.3" r="1.3"/><circle cx="353.6" cy="436.5" r="1.3"/>
<circle cx="375.5" cy="446.9" r="1.1"/><circle cx="390.9" cy="460.2" r="1.4"/><circle cx="394.8" cy="469" r="1"/><circle cx="387.3" cy="476.8" r="1.2"/>
<circle cx="367" cy="488.2" r="1.3"/><circle cx="346" cy="499.4" r="1.3"/><circle cx="321.7" cy="491.2" r="1.3"/><circle cx="301.2" cy="479.6" r="1.2"/>
</g>
</g>
<!-- bolt -->
<g stroke-width="1.2">
<path d="M285.6 513.8L285.9 508.8C286.1 507.4 287.7 507.4 288 508.8L288.3 513.8"/>
<ellipse cx="287" cy="515.5" rx="2.3" ry="1.7" stroke-width="1.6" fill="#777"/>
</g>
<!-- 4: gasket ring -->
<g>
<ellipse cx="415.7" cy="466.1" rx="3.9" ry="4.5" stroke-width="1.3"/>
<ellipse cx="415.6" cy="466.1" rx="2.3" ry="2.8" stroke="#444" stroke-width="1"/>
</g>
<!-- 5: drain plug -->
<g>
<path d="M460 473.9L456.6 474.6C455.6 475.2 455.2 476.4 455.3 477.4C455.4 478.6 455.9 479.4 456.6 480L459.2 482.4" stroke-width="1.3"/>
<ellipse cx="463.1" cy="478.2" rx="4.3" ry="4.9" stroke-width="1.4"/>
<ellipse cx="462.4" cy="477.8" rx="2.3" ry="2.5" stroke="#999" stroke-width="0.8"/>
</g>

</g>
<g id="arrows"><line x1="270.0" y1="385.7" x2="306.5" y2="349.5" stroke="#111" stroke-width="1.1"/><polygon points="311.8,344.3 307.5,353.9 306.5,349.5 302.2,348.5" fill="#000"/><line x1="271.0" y1="419.5" x2="306.9" y2="383.8" stroke="#111" stroke-width="1.1"/><polygon points="312.2,378.6 307.9,388.2 306.9,383.8 302.6,382.8" fill="#000"/><line x1="269.5" y1="443.8" x2="306.1" y2="407.4" stroke="#111" stroke-width="1.1"/><polygon points="311.4,402.2 307.1,411.8 306.1,407.4 301.8,406.4" fill="#000"/><line x1="432.5" y1="409.6" x2="396.4" y2="445.5" stroke="#111" stroke-width="1.1"/><polygon points="391.1,450.7 395.4,441.1 396.4,445.5 400.7,446.5" fill="#000"/><line x1="460.2" y1="419.8" x2="423.9" y2="455.9" stroke="#111" stroke-width="1.1"/><polygon points="418.6,461.1 422.9,451.5 423.9,455.9 428.2,456.9" fill="#000"/><line x1="506.7" y1="430.4" x2="470.4" y2="467.1" stroke="#111" stroke-width="1.1"/><polygon points="465.2,472.4 469.4,462.8 470.4,467.1 474.8,468.1" fill="#000"/><line x1="508.8" y1="523.6" x2="472.4" y2="487.4" stroke="#111" stroke-width="1.1"/><polygon points="467.2,482.2 476.8,486.4 472.4,487.4 471.5,491.8" fill="#000"/><line x1="331.9" y1="558.7" x2="295.3" y2="522.3" stroke="#111" stroke-width="1.1"/><polygon points="290.0,517.1 299.6,521.3 295.3,522.3 294.3,526.7" fill="#000"/></g><g id="nosigns"><circle cx="255.5" cy="392.9" r="5.85" fill="none" stroke="#7e7e7e" stroke-width="1.7"/><line x1="251.4" y1="388.8" x2="259.6" y2="397.0" stroke="#7e7e7e" stroke-width="1.7"/><circle cx="471.9" cy="412.0" r="5.85" fill="none" stroke="#7e7e7e" stroke-width="1.7"/><line x1="467.8" y1="407.9" x2="476.0" y2="416.1" stroke="#7e7e7e" stroke-width="1.7"/></g>
</svg>
<div class="t" style="left:207.5px;top:443.8px">19.6 ~ 26.5</div>
<div class="t w" style="left:139.2px;top:459.8px">(2.0 ~ 2.7, 14.5 ~ 19.5)</div>
<div class="t" style="left:500.5px;top:522.8px">34.3 ~ 44.1</div>
<div class="t w" style="left:468.5px;top:539.3px">(3.5 ~ 4.5, 25.3 ~ 32.5)</div>
<div class="t" style="left:339px;top:555.3px">9.8 ~ 11.8</div>
<div class="t w" style="left:306.6px;top:571.6px">(1.0 ~ 1.2, 7.2 ~ 10.1)</div>
<div class="t" style="left:13.2px;top:653.5px">Torque : N.m (kgf.m, lb-ft)</div>
<div class="n" style="left:263.7px;top:385.8px">1</div>
<div class="n" style="left:263.2px;top:417.8px">2</div>
<div class="n" style="left:429.5px;top:394.0px">3</div>
<div class="n" style="left:455.8px;top:406.3px">4</div>
<div class="n" style="left:509.9px;top:420.2px">5</div>
</div>
</body></html>
